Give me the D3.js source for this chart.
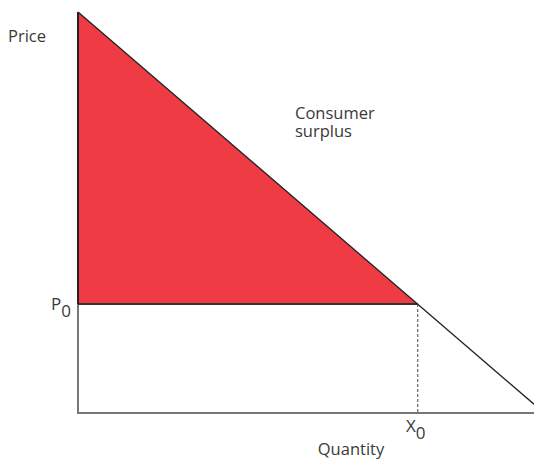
<!DOCTYPE html>
<html>
<head>
<meta charset="utf-8">
<script src="https://cdn.jsdelivr.net/npm/d3@7"></script>
<style>
  body { margin: 0; background: #fff; }
  text { font-family: "Open Sans", sans-serif; fill: #3a3a3a; }
</style>
</head>
<body>
<svg width="534" height="461"></svg>
<script>
// Data
let demandQ = [0, 10];
let demandP = [10, 0.22];
let p0 = 2.72;
let x0 = 7.45;
let axisLabels = ["Price", "Quantity"];
let areaLabel = ["Consumer", "surplus"];

// The svg
let svg = d3.select("svg");

// Scales
let x = d3.scaleLinear().domain([0, 10]).range([78, 534]);
let y = d3.scaleLinear().domain([0, 10]).range([413, 12]);

let demand = demandQ.map((q, i) => ({q: q, p: demandP[i]}));

// Consumer surplus triangle
let slope = (demandP[1] - demandP[0]) / (demandQ[1] - demandQ[0]);
let surplus = [[0, demandP[0]], [x0, demandP[0] + slope * x0], [0, p0]];
svg.append("path")
    .attr("d", d3.line().x(d => x(d[0])).y(d => y(d[1]))(surplus) + "Z")
    .attr("fill", "#ee3b44")
    .attr("stroke", "none");

// Axes
svg.append("path")
    .attr("d", d3.line()([[x(0), y(10)], [x(0), y(0)], [x(10), y(0)]]))
    .attr("fill", "none")
    .attr("stroke", "#777")
    .attr("stroke-width", 2);

// P0 line
svg.append("line")
    .attr("x1", x(0)).attr("x2", x(x0))
    .attr("y1", y(p0)).attr("y2", y(p0))
    .attr("stroke", "#333")
    .attr("stroke-width", 2);

// X0 dashed drop line
svg.append("line")
    .attr("x1", x(x0)).attr("x2", x(x0))
    .attr("y1", y(p0)).attr("y2", y(0))
    .attr("stroke", "#666")
    .attr("stroke-width", 1.2)
    .attr("stroke-dasharray", "3,2");

// Left edge of triangle
svg.append("line")
    .attr("x1", x(0)).attr("x2", x(0))
    .attr("y1", y(demandP[0])).attr("y2", y(p0))
    .attr("stroke", "#222")
    .attr("stroke-width", 2);

// Demand curve
svg.append("path")
    .datum(demand)
    .attr("d", d3.line().x(d => x(d.q)).y(d => y(d.p)))
    .attr("fill", "none")
    .attr("stroke", "#222")
    .attr("stroke-width", 1.3);

// Labels
svg.append("text")
    .attr("x", 8).attr("y", 42)
    .attr("font-size", 16.5)
    .text(axisLabels[0]);
svg.append("text")
    .attr("x", 351).attr("y", 455)
    .attr("text-anchor", "middle")
    .attr("font-size", 16.5)
    .text(axisLabels[1]);

svg.selectAll(".cs").data(areaLabel).join("text")
    .attr("class", "cs")
    .attr("x", 295)
    .attr("y", (d, i) => 119 + i * 18)
    .attr("font-size", 16.5)
    .text(d => d);

let pl = svg.append("text")
    .attr("x", 51).attr("y", y(p0) + 6)
    .attr("font-size", 17);
pl.append("tspan").text("P");
pl.append("tspan").attr("dy", 7).text("0");

let xl = svg.append("text")
    .attr("x", 406).attr("y", 432)
    .attr("font-size", 17);
xl.append("tspan").text("X");
xl.append("tspan").attr("dy", 7).text("0");
</script>
</body>
</html>
